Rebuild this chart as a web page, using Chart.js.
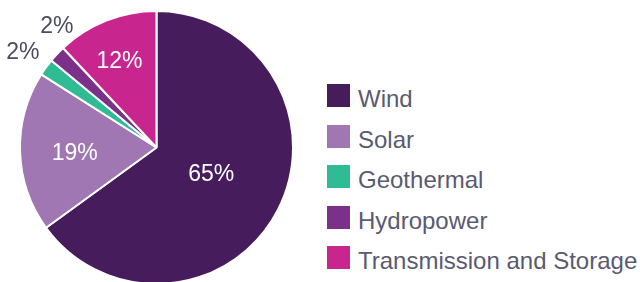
<!DOCTYPE html>
<html>
<head>
<meta charset="utf-8">
<script src="https://cdn.jsdelivr.net/npm/chart.js@4/dist/chart.umd.min.js"></script>
<style>
  html, body { margin:0; padding:0; width:644px; height:282px; overflow:hidden; background:#fff; }
  #wrap { position:absolute; left:0; top:0; width:320px; height:300px; }
  #legend { position:absolute; left:327px; top:84px; font-family:"Liberation Sans", Arial, sans-serif; font-size:24px; color:#5a5a70; }
  .item { position:relative; height:23px; margin-bottom:17.5px; }
  .sw { position:absolute; left:0; top:0; width:23px; height:23px; }
  .tx { position:absolute; left:31px; top:0; line-height:23px; white-space:nowrap; transform:translateY(3px); }
</style>
</head>
<body>
<div id="wrap"><canvas id="c" width="320" height="300"></canvas></div>
<div id="legend"></div>
<script>
const categories = ["Wind", "Solar", "Geothermal", "Hydropower", "Transmission and Storage"];
const shares = [65, 19, 2, 2, 12];
const valueLabels = ["65%", "19%", "2%", "2%", "12%"];

const colors = ["#461c5c", "#a077b3", "#2fbc94", "#7b3189", "#c8258f"];
const labelColors = ["#ffffff", "#ffffff", "#4b4b60", "#4b4b60", "#ffffff"];
const labelRadial = [0.44, 0.60, 1.21, 1.16, 0.70];
const labelAngleShift = [-2.6, -1.3, 0, 7.8, -1.2];

const sliceLabels = {
  id: 'sliceLabels',
  afterDatasetsDraw(chart) {
    const ctx = chart.ctx;
    const meta = chart.getDatasetMeta(0);
    ctx.save();
    ctx.font = '23px "Liberation Sans", Arial, sans-serif';
    ctx.textAlign = 'center';
    ctx.textBaseline = 'alphabetic';
    meta.data.forEach((arc, i) => {
      const p = arc.getProps(['x', 'y', 'startAngle', 'endAngle', 'outerRadius'], true);
      const mid = (p.startAngle + p.endAngle) / 2 + labelAngleShift[i] * Math.PI / 180;
      const r = p.outerRadius * labelRadial[i];
      const x = p.x + Math.cos(mid) * r;
      const y = p.y + Math.sin(mid) * r;
      ctx.fillStyle = labelColors[i];
      ctx.fillText(valueLabels[i], x, y + 8.2);
    });
    ctx.restore();
  }
};

new Chart(document.getElementById('c'), {
  type: 'pie',
  data: {
    labels: categories,
    datasets: [{
      data: shares,
      backgroundColor: colors,
      borderColor: '#ffffff',
      borderWidth: 2
    }]
  },
  options: {
    responsive: false,
    animation: false,
    layout: { padding: { top: 10, left: 19, right: 26, bottom: 15 } },
    plugins: { legend: { display: false }, tooltip: { enabled: false } }
  },
  plugins: [sliceLabels]
});

const legend = document.getElementById('legend');
categories.forEach((name, i) => {
  const item = document.createElement('div');
  item.className = 'item';
  const sw = document.createElement('div');
  sw.className = 'sw';
  sw.style.background = colors[i];
  const tx = document.createElement('div');
  tx.className = 'tx';
  tx.textContent = name;
  item.appendChild(sw);
  item.appendChild(tx);
  legend.appendChild(item);
});
</script>
</body>
</html>
